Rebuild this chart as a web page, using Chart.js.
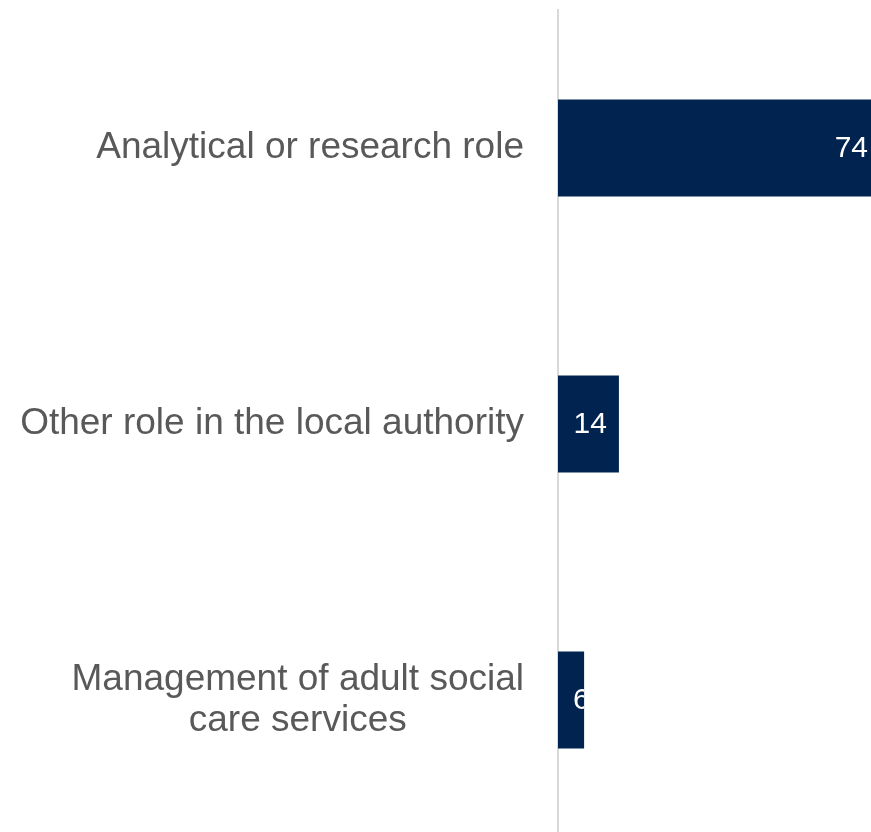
<!DOCTYPE html>
<html>
<head>
<meta charset="utf-8">
<title>Role</title>
<script src="https://cdn.jsdelivr.net/npm/chart.js@4/dist/chart.umd.min.js"></script>
<style>
  html, body { margin: 0; padding: 0; background: #fff; overflow: hidden; }
  #wrap { width: 880px; height: 838px; }
</style>
</head>
<body>
<div id="wrap"><canvas id="roleChart" width="880" height="838"></canvas></div>
<script>
const roles = [
  "Analytical or research role",
  ["Other role in the local authority"],
  ["Management of adult social", "care services"]
];
const respondents = [74, 14, 6];

const FONT = '"Liberation Sans", Arial, sans-serif';
const NAVY = "#00244f";

// category labels, each line centred on the widest line of its label
const roleLabels = {
  id: "roleLabels",
  afterDraw(chart) {
    const ctx = chart.ctx;
    const yScale = chart.scales.y;
    const right = chart.chartArea.left - 34;
    ctx.save();
    ctx.font = "37px " + FONT;
    ctx.fillStyle = "#595959";
    ctx.textAlign = "center";
    ctx.textBaseline = "middle";
    roles.forEach((label, i) => {
      const lines = Array.isArray(label) ? label : [label];
      const widest = Math.max(...lines.map((l) => ctx.measureText(l).width));
      const cx = right - widest / 2;
      const lineH = 41;
      const y0 = yScale.getPixelForTick(i) - ((lines.length - 1) * lineH) / 2;
      lines.forEach((l, j) => ctx.fillText(l, cx, y0 + j * lineH));
    });
    ctx.restore();
  },
};

// white value labels inside the end of each bar
const barValues = {
  id: "barValues",
  afterDatasetsDraw(chart) {
    const ctx = chart.ctx;
    const meta = chart.getDatasetMeta(0);
    ctx.save();
    ctx.font = "30px " + FONT;
    ctx.fillStyle = "#ffffff";
    ctx.textBaseline = "middle";
    meta.data.forEach((bar, i) => {
      const text = String(respondents[i]);
      const w = ctx.measureText(text).width;
      let left = bar.x - 12 - w;
      if (left < bar.base + 15) left = bar.base + 15;
      ctx.save();
      ctx.beginPath();
      ctx.rect(bar.base, bar.y - bar.height / 2, bar.x - bar.base, bar.height);
      ctx.clip();
      ctx.textAlign = "left";
      ctx.fillText(text, left, bar.y + 1);
      ctx.restore();
    });
    ctx.restore();
  },
};

new Chart(document.getElementById("roleChart"), {
  type: "bar",
  data: {
    labels: roles,
    datasets: [
      {
        data: respondents,
        backgroundColor: NAVY,
        borderWidth: 0,
        categoryPercentage: 1,
        barPercentage: 0.352,
      },
    ],
  },
  options: {
    indexAxis: "y",
    responsive: false,
    animation: false,
    layout: { padding: { top: 10, right: 0, bottom: 0, left: 0 } },
    plugins: { legend: { display: false }, tooltip: { enabled: false } },
    scales: {
      x: {
        display: false,
        min: 0,
        max: 74,
      },
      y: {
        grid: { display: false, drawTicks: false },
        border: { display: true, color: "#d9d9d9", width: 2 },
        ticks: { display: false },
        afterFit(scale) {
          scale.width = 558;
        },
      },
    },
  },
  plugins: [roleLabels, barValues],
});
</script>
</body>
</html>
